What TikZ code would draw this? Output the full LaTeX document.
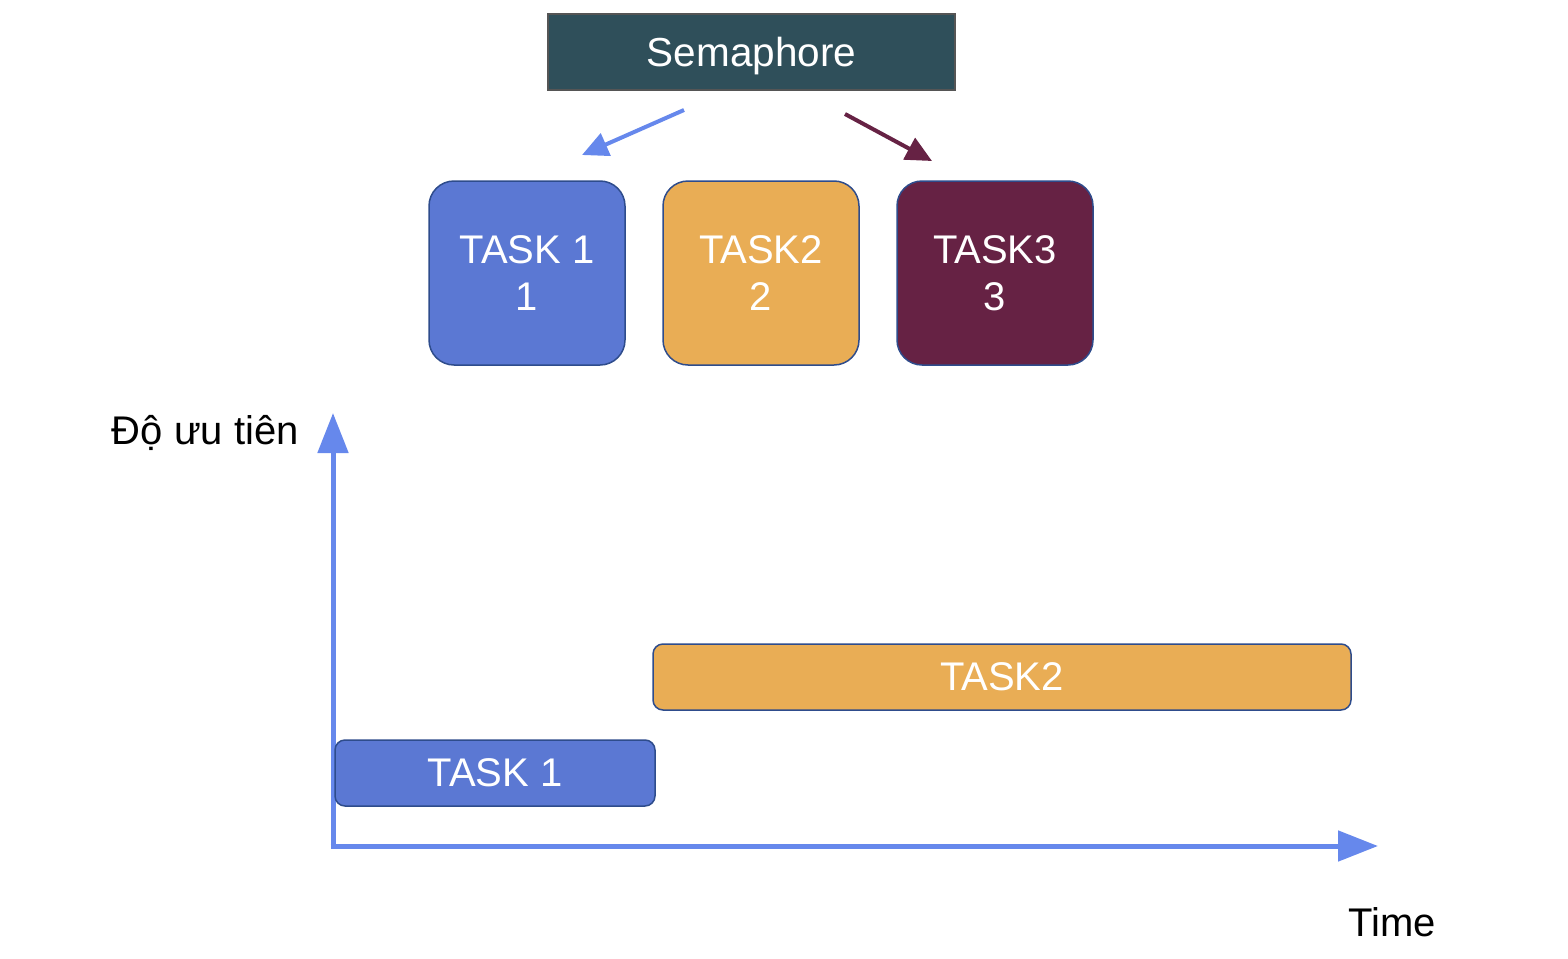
\documentclass[tikz,border=0pt]{standalone}
\usepackage{fontspec}
\setmainfont{Liberation Sans}
\usetikzlibrary{arrows.meta}
\definecolor{semfill}{HTML}{2F4F5A}
\definecolor{semdraw}{HTML}{555555}
\definecolor{bluefill}{HTML}{5B78D3}
\definecolor{boxdraw}{HTML}{2E4C8C}
\definecolor{orangefill}{HTML}{E9AD55}
\definecolor{maroonfill}{HTML}{662244}
\definecolor{axisblue}{HTML}{6688EC}
\tikzset{
  taskbox/.style={draw=boxdraw, line width=1.5pt, rounded corners=25pt, minimum width=196pt, minimum height=184pt, text=white, align=center, font=\fontsize{40}{47}\selectfont, inner sep=0pt},
  barbox/.style={draw=boxdraw, line width=1.5pt, rounded corners=10pt, minimum height=66pt, text=white, font=\fontsize{40}{47}\selectfont, inner sep=0pt},
  axisline/.style={draw=axisblue, line width=5pt, -{Triangle[length=40pt,width=30pt]}},
}
\begin{document}
\begin{tikzpicture}[x=1pt,y=-1pt]
\useasboundingbox (0,0) rectangle (1568,958);
\node[draw=semdraw, fill=semfill, line width=1.5pt, minimum width=407pt, minimum height=76pt, inner sep=0pt, text=white, text height=29pt, text depth=0pt, font=\fontsize{40.5}{48}\selectfont] (sem) at (751.5,52) {Semaphore};
\coordinate (ba) at (684,110);
\coordinate (bb) at (582,155);
\coordinate (ma) at (845,114);
\coordinate (mb) at (932,161);
\draw[draw=axisblue, line width=4pt, -{Triangle[length=26pt,width=24pt]}] (ba) -- (bb);
\draw[draw=maroonfill, line width=4pt, -{Triangle[length=26pt,width=24pt]}] (ma) -- (mb);
\node[taskbox, fill=bluefill] (t1) at (527,273) {TASK 1\\1};
\node[taskbox, fill=orangefill] (t2) at (761,273) {TASK2\\2};
\node[taskbox, fill=maroonfill] (t3) at (995,273) {TASK3\\3};
\coordinate (origin) at (333,846);
\coordinate (ytip) at (333,413);
\coordinate (xtip) at (1378,846);
\draw[axisline] (333,848.5) -- (ytip);
\draw[axisline] (330.5,846) -- (xtip);
\node[font=\fontsize{40}{48}\selectfont, anchor=east, inner sep=0pt] (ylab) at (299,433) {Độ ưu tiên};
\node[font=\fontsize{40}{48}\selectfont, inner sep=0pt] (xlab) at (1392,922) {Time};
\node[barbox, fill=orangefill, minimum width=698pt] (b2) at (1002,677) {TASK2};
\node[barbox, fill=bluefill, minimum width=320pt] (b1) at (495,773) {TASK 1};
\end{tikzpicture}
\end{document}
